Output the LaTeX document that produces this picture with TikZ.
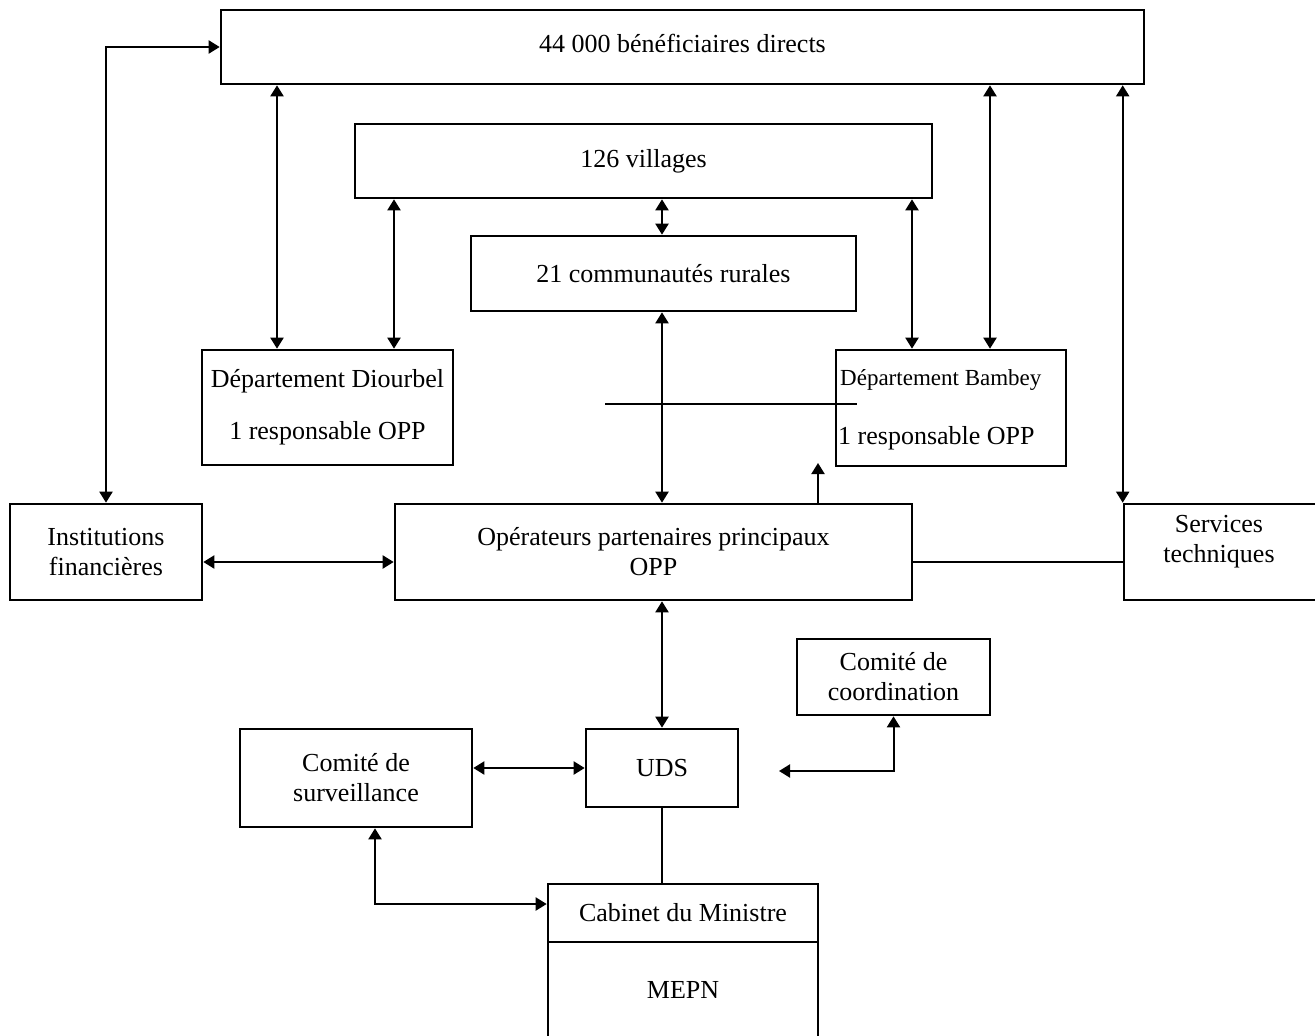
\documentclass[tikz,border=0pt]{standalone}
\usepackage{fontspec}
\setmainfont{Liberation Serif}
\usetikzlibrary{arrows.meta}
\begin{document}
\begin{tikzpicture}[x=1pt,y=-1pt,
  box/.style={draw,line width=2.6pt,inner sep=2pt,align=center,
    font=\fontsize{26}{30}\selectfont},
  txt/.style={inner sep=0pt,align=center,font=\fontsize{26}{30}\selectfont},
  con/.style={line width=2pt},
  arr2/.style={con,{Triangle[length=11pt,width=13pt]}-{Triangle[length=11pt,width=13pt]}},
  arr1/.style={con,-{Triangle[length=11pt,width=13pt]}}]
\useasboundingbox (0,0) rectangle (1315,1036);
% boxes
\node[box,minimum width=923pt,minimum height=74pt] (top) at (682.5,47) {};
\node[txt] (topt) at (682.5,43) {44 000 bénéficiaires directs};
\node[box,minimum width=577pt,minimum height=74pt] (vill) at (643.5,161) {126 villages};
\node[box,minimum width=385pt,minimum height=75pt] (comm) at (663.5,273.5) {21 communautés rurales};
\node[box,minimum width=251pt,minimum height=115pt] (diour) at (327.5,407.5) {Département Diourbel\\[22pt]1 responsable OPP};
\node[box,minimum width=230pt,minimum height=116pt] (bamb) at (951,408) {};
\node[txt,anchor=west,font=\fontsize{23}{27}\selectfont] (bambt) at (840,380) {Département Bambey};
\node[txt,anchor=west] (bambr) at (838,438) {1 responsable OPP};
\node[box,minimum width=192pt,minimum height=96pt] (inst) at (106,552) {Institutions\\financières};
\node[box,minimum width=517pt,minimum height=96pt] (opp) at (653.5,552) {Opérateurs partenaires principaux\\OPP};
\node[box,minimum width=194pt,minimum height=96pt] (serv) at (1221,552) {};
\node[txt] (servt) at (1219,542) {Services\\techniques};
\node[box,minimum width=193pt,minimum height=76pt] (coord) at (893.5,677) {Comité de\\coordination};
\node[box,minimum width=232pt,minimum height=98pt] (surv) at (356,778) {Comité de\\surveillance};
\node[box,minimum width=152pt,minimum height=78pt] (uds) at (662,768) {UDS};
\node[box,minimum width=270pt,minimum height=58pt] (cab) at (683,913) {Cabinet du Ministre};
\node[box,minimum width=270pt,minimum height=96pt] (mepn) at (683,990) {MEPN};
% free coordinates
\coordinate (h1) at (605,404);
\coordinate (h2) at (857,404);
\coordinate (up) at (818,463);
\coordinate (cc) at (779,771);
% connectors
\draw[arr2] (inst.north) |- (top.west);
\draw[arr2] (top.south -| 277,0) -- (diour.north -| 277,0);
\draw[arr2] (vill.south -| 394,0) -- (diour.north -| 394,0);
\draw[arr2] (vill.south -| 662,0) -- (comm.north -| 662,0);
\draw[arr2] (comm.south -| 662,0) -- (opp.north -| 662,0);
\draw[arr2] (vill.south -| 912,0) -- (bamb.north -| 912,0);
\draw[arr2] (top.south -| 990,0) -- (bamb.north -| 990,0);
\draw[arr2] (top.south -| serv.north west) -- (serv.north west);
\draw[con] (h1) -- (h2);
\draw[arr1] (opp.north -| up) -- (up);
\draw[arr2] ([yshift=-10pt]inst.east) -- ([yshift=-10pt]opp.west);
\draw[con] ([yshift=-10pt]opp.east) -- ([yshift=-10pt]serv.west);
\draw[arr2] (opp.south -| 662,0) -- (uds.north -| 662,0);
\draw[arr2] (surv.east |- uds.west) -- (uds.west);
\draw[arr2] (coord.south) |- (cc);
\draw[con] (uds.south) -- (uds.south |- cab.north);
\draw[arr2] (surv.south -| 375,0) |- ([yshift=9pt]cab.west);
\end{tikzpicture}
\end{document}
